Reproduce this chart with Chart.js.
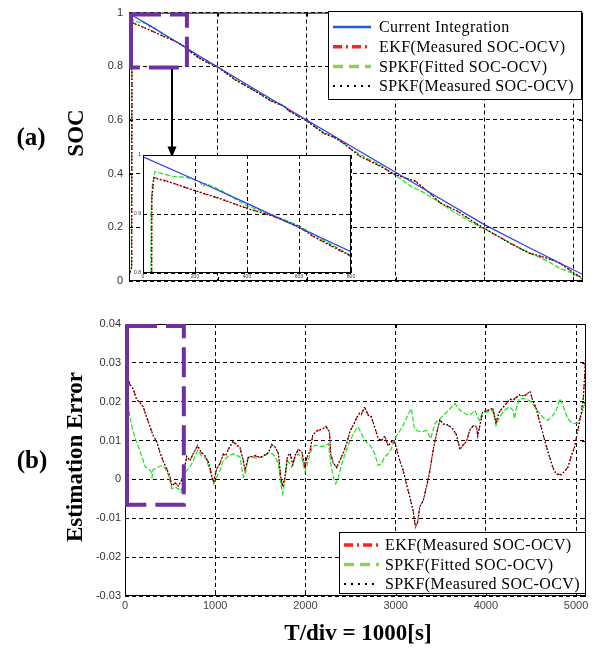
<!DOCTYPE html>
<html>
<head>
<meta charset="utf-8">
<script src="https://cdn.jsdelivr.net/npm/chart.js@4.4.1/dist/chart.umd.min.js"></script>
<style>
  html, body { margin: 0; padding: 0; background: #fff; }
  #wrap { position: relative; width: 596px; height: 650px; overflow: hidden; }
  canvas { position: absolute; }
  .lbl { position: absolute; font-family: "Liberation Serif", "Times New Roman", serif; font-weight: bold; color: #000; white-space: nowrap; line-height: 1; }
  .ctr { transform: translate(-50%, -50%); }
  .rot { transform: translate(-50%, -50%) rotate(-90deg); }
</style>
</head>
<body>
<div id="wrap">
  <canvas id="socChart" width="596" height="300" style="left:0;top:0;width:596px;height:300px"></canvas>
  <canvas id="errChart" width="596" height="350" style="left:0;top:300px;width:596px;height:350px"></canvas>
  <canvas id="zoomChart" width="240" height="140" style="left:120px;top:145px;width:240px;height:140px"></canvas>
  <div class="lbl ctr" style="left:31px;top:136px;font-size:25px">(a)</div>
  <div class="lbl rot" style="left:75px;top:133px;font-size:23px">SOC</div>
  <div class="lbl ctr" style="left:32px;top:459px;font-size:25px">(b)</div>
  <div class="lbl rot" style="left:74px;top:457px;font-size:23px">Estimation Error</div>
  <div class="lbl ctr" style="left:358px;top:632px;font-size:23px">T/div = 1000[s]</div>
</div>
<script>
// ---- data: [time s, value] ----
const timeTicks = [0, 1000, 2000, 3000, 4000, 5000];
const socTicks = [0, 0.2, 0.4, 0.6, 0.8, 1];
const errTicks = [-0.03, -0.02, -0.01, 0, 0.01, 0.02, 0.03, 0.04];
const zoomTimeTicks = [0, 200, 400, 600, 800];
const zoomSocTicks = [0.8, 0.9, 1];

const ciSoc = [[0,0.997],[200,0.958],[400,0.918],[600,0.877],[800,0.836],[1000,0.797],[1500,0.698],[2000,0.600],[2500,0.502],[3000,0.405],[3500,0.307],[4000,0.210],[4500,0.125],[5000,0.042],[5110,0.024]];

const ekfSoc = [[0,0.02],[30,0.05],[34,0.93],[42,0.962],[100,0.955],[200,0.939],[300,0.925],[400,0.910],[500,0.896],[600,0.878],[655,0.862],[700,0.851],[800,0.828],[900,0.811],[1000,0.797],[1200,0.748],[1400,0.712],[1600,0.670],[1750,0.651],[1800,0.633],[2000,0.597],[2200,0.548],[2300,0.537],[2400,0.516],[2600,0.465],[2800,0.432],[3000,0.395],[3220,0.373],[3400,0.323],[3500,0.292],[3700,0.259],[3900,0.216],[4100,0.176],[4300,0.139],[4500,0.104],[4700,0.086],[4850,0.066],[5000,0.032],[5110,0.008]];

const fitSoc = [[0,0.02],[28,0.05],[31,0.895],[36,0.95],[46,0.972],[78,0.968],[110,0.964],[168,0.962],[219,0.955],[230,0.946],[240,0.952],[300,0.940],[400,0.914],[500,0.898],[600,0.880],[700,0.854],[800,0.830],[900,0.812],[1000,0.798],[1200,0.751],[1400,0.712],[1600,0.672],[1750,0.653],[1800,0.634],[2000,0.598],[2200,0.552],[2340,0.534],[2500,0.492],[2650,0.462],[2800,0.438],[3000,0.394],[3175,0.352],[3300,0.333],[3500,0.292],[3650,0.258],[3900,0.211],[4100,0.177],[4300,0.141],[4500,0.106],[4700,0.076],[4850,0.047],[5000,0.028],[5110,0.005]];

const spkfSoc = [[0,0.02],[30,0.05],[34,0.925],[42,0.961],[100,0.954],[200,0.940],[300,0.926],[400,0.909],[500,0.897],[600,0.879],[655,0.862],[700,0.852],[800,0.829],[900,0.810],[1000,0.797],[1200,0.749],[1400,0.711],[1600,0.671],[1750,0.650],[1800,0.634],[2000,0.596],[2200,0.549],[2300,0.536],[2400,0.517],[2600,0.464],[2800,0.433],[3000,0.396],[3220,0.372],[3400,0.324],[3500,0.291],[3700,0.260],[3900,0.215],[4100,0.177],[4300,0.138],[4500,0.105],[4700,0.085],[4850,0.067],[5000,0.031],[5110,0.009]];

const ekfErr = [[0,0.09],[22,0.045],[33,0.0264],[55,0.0242],[92,0.0234],[129,0.0204],[166,0.0199],[203,0.0185],[240,0.0161],[277,0.0135],[314,0.0113],[351,0.0096],[388,0.0070],[425,0.0045],[462,0.0028],[499,0.0006],[518,-0.0015],[555,-0.0010],[592,-0.0015],[621,-0.0007],[647,0.0015],[684,0.0058],[721,0.0050],[758,0.0066],[806,0.0088],[843,0.0069],[887,0.0062],[931,0.0040],[961,0.0010],[983,-0.0007],[1016,0.0028],[1053,0.0040],[1090,0.0066],[1116,0.0060],[1146,0.0079],[1197,0.0096],[1240,0.0090],[1275,0.0080],[1312,0.0049],[1330,0.0023],[1367,0.0058],[1441,0.0060],[1497,0.0058],[1552,0.0062],[1589,0.0070],[1626,0.0088],[1663,0.0085],[1700,0.0066],[1726,0.0006],[1748,-0.0020],[1774,0.0006],[1800,0.0060],[1830,0.0066],[1860,0.0040],[1885,0.0060],[1922,0.0079],[1959,0.0070],[1996,0.0032],[2015,0.0055],[2052,0.0075],[2081,0.0113],[2126,0.0126],[2181,0.0128],[2229,0.0137],[2266,0.0121],[2281,0.0066],[2310,0.0040],[2347,0.0032],[2384,0.0049],[2421,0.0070],[2458,0.0092],[2495,0.0126],[2532,0.0139],[2569,0.0160],[2599,0.0169],[2620,0.0169],[2657,0.0185],[2694,0.0167],[2731,0.0160],[2768,0.0135],[2805,0.0105],[2842,0.0101],[2879,0.0110],[2916,0.0088],[2953,0.0096],[2990,0.0096],[3009,0.0079],[3046,0.0049],[3083,0.0023],[3120,-0.0011],[3157,-0.0046],[3194,-0.0080],[3220,-0.0123],[3242,-0.0111],[3268,-0.0071],[3305,-0.0054],[3342,-0.0020],[3379,0.0023],[3416,0.0075],[3453,0.0118],[3490,0.0152],[3527,0.0144],[3583,0.0139],[3638,0.0130],[3675,0.0113],[3712,0.0079],[3749,0.0088],[3786,0.0100],[3823,0.0126],[3860,0.0139],[3897,0.0135],[3910,0.0113],[3965,0.0173],[4021,0.0178],[4076,0.0182],[4113,0.0148],[4150,0.0173],[4206,0.0191],[4261,0.0204],[4317,0.0208],[4372,0.0216],[4427,0.0216],[4490,0.0225],[4520,0.0204],[4557,0.0182],[4594,0.0152],[4631,0.0118],[4668,0.0088],[4705,0.0058],[4742,0.0032],[4779,0.0013],[4834,0.0013],[4871,0.0019],[4908,0.0032],[4945,0.0058],[4982,0.0083],[5019,0.0126],[5056,0.0169],[5082,0.0212],[5104,0.0307],[5119,0.0358]];

const fitErr = [[0,0.030],[15,0.029],[22,0.029],[33,0.021],[48,0.017],[77,0.0135],[114,0.0105],[151,0.0083],[188,0.0058],[225,0.0032],[262,0.0028],[290,0.0020],[300,0.0006],[312,0.0025],[336,0.0028],[373,0.0032],[410,0.0036],[447,0.0028],[484,0.0010],[518,-0.0024],[555,-0.0020],[592,-0.0024],[621,-0.0033],[647,0.0006],[684,0.0023],[721,0.0032],[758,0.0049],[806,0.0075],[850,0.0060],[894,0.0055],[931,0.0032],[961,0.0006],[983,-0.0011],[1016,0.0006],[1053,0.0023],[1090,0.0049],[1146,0.0060],[1201,0.0066],[1257,0.0060],[1275,0.0058],[1312,0.0006],[1330,0.0010],[1367,0.0058],[1459,0.0055],[1533,0.0058],[1607,0.0070],[1663,0.0060],[1700,0.0040],[1726,-0.0011],[1748,-0.0037],[1774,0.0002],[1800,0.0049],[1848,0.0032],[1885,0.0055],[1922,0.0066],[1959,0.0055],[1996,0.0019],[2033,0.0049],[2070,0.0079],[2107,0.0088],[2163,0.0085],[2218,0.0085],[2255,0.0092],[2281,0.0040],[2310,0.0006],[2336,-0.0011],[2366,0.0006],[2403,0.0040],[2440,0.0066],[2495,0.0100],[2551,0.0126],[2583,0.0135],[2620,0.0118],[2657,0.0100],[2694,0.0092],[2731,0.0083],[2768,0.0066],[2805,0.0036],[2842,0.0040],[2879,0.0058],[2916,0.0066],[2953,0.0079],[2990,0.0105],[3027,0.0118],[3083,0.0139],[3138,0.0167],[3175,0.0182],[3205,0.0135],[3231,0.0126],[3286,0.0122],[3342,0.0126],[3390,0.0105],[3435,0.0144],[3490,0.0156],[3546,0.0169],[3601,0.0182],[3657,0.0195],[3712,0.0178],[3768,0.0169],[3823,0.0165],[3878,0.0178],[3928,0.0152],[3965,0.0173],[4021,0.0173],[4076,0.0178],[4113,0.0139],[4150,0.0160],[4206,0.0178],[4261,0.0187],[4300,0.0178],[4317,0.0156],[4335,0.0180],[4372,0.0208],[4446,0.0208],[4501,0.0200],[4557,0.0182],[4631,0.0160],[4686,0.0152],[4742,0.0165],[4779,0.0178],[4823,0.0208],[4860,0.0187],[4908,0.0156],[4963,0.0144],[5019,0.0144],[5075,0.0178],[5112,0.0212]];

const spkfErr = [[0,0.09],[22,0.046],[33,0.0262],[55,0.0245],[92,0.0232],[129,0.0206],[166,0.0197],[203,0.0187],[240,0.0159],[277,0.0137],[314,0.0111],[351,0.0098],[388,0.0068],[425,0.0047],[462,0.0026],[499,0.0008],[518,-0.0017],[555,-0.0008],[592,-0.0017],[621,-0.0005],[647,0.0013],[684,0.0060],[721,0.0048],[758,0.0068],[806,0.0086],[843,0.0071],[887,0.0060],[931,0.0042],[961,0.0008],[983,-0.0005],[1016,0.0026],[1053,0.0042],[1090,0.0064],[1116,0.0062],[1146,0.0077],[1197,0.0098],[1240,0.0088],[1275,0.0082],[1312,0.0047],[1330,0.0025],[1367,0.0056],[1441,0.0062],[1497,0.0056],[1552,0.0064],[1589,0.0068],[1626,0.0090],[1663,0.0083],[1700,0.0068],[1726,0.0008],[1748,-0.0018],[1774,0.0008],[1800,0.0058],[1830,0.0068],[1860,0.0038],[1885,0.0062],[1922,0.0077],[1959,0.0072],[1996,0.0030],[2015,0.0057],[2052,0.0073],[2081,0.0115],[2126,0.0124],[2181,0.0130],[2229,0.0135],[2266,0.0123],[2281,0.0064],[2310,0.0042],[2347,0.0030],[2384,0.0051],[2421,0.0068],[2458,0.0094],[2495,0.0124],[2532,0.0141],[2569,0.0158],[2599,0.0171],[2620,0.0167],[2657,0.0187],[2694,0.0165],[2731,0.0162],[2768,0.0133],[2805,0.0107],[2842,0.0099],[2879,0.0112],[2916,0.0086],[2953,0.0098],[2990,0.0094],[3009,0.0081],[3046,0.0047],[3083,0.0025],[3120,-0.0013],[3157,-0.0044],[3194,-0.0082],[3220,-0.0121],[3242,-0.0113],[3268,-0.0069],[3305,-0.0056],[3342,-0.0018],[3379,0.0021],[3416,0.0077],[3453,0.0116],[3490,0.0154],[3527,0.0142],[3583,0.0141],[3638,0.0128],[3675,0.0115],[3712,0.0077],[3749,0.0090],[3786,0.0098],[3823,0.0128],[3860,0.0137],[3897,0.0137],[3910,0.0111],[3965,0.0175],[4021,0.0176],[4076,0.0184],[4113,0.0146],[4150,0.0175],[4206,0.0189],[4261,0.0206],[4317,0.0206],[4372,0.0218],[4427,0.0214],[4490,0.0227],[4520,0.0202],[4557,0.0184],[4594,0.0150],[4631,0.0120],[4668,0.0086],[4705,0.0060],[4742,0.0030],[4779,0.0015],[4834,0.0011],[4871,0.0021],[4908,0.0030],[4945,0.0060],[4982,0.0081],[5019,0.0128],[5056,0.0167],[5082,0.0214],[5104,0.0305],[5119,0.0360]];

// zoom boxes in data units: [tMin, tMax, yMin, yMax]
const socZoomBox = [0, 652, 0.795, 1.0];
const errZoomBox = [0, 652, -0.0065, 0.04];
const socArrow = [484, 0.79, 0.46]; // t, from soc, to soc

// ---- styles ----
const C_BLUE = '#2a3cf0', C_RED = '#ff1010', C_GREEN = '#1ee01e', C_BLACK = '#000';
const tickFont = { family: '"Liberation Sans", Arial, sans-serif', size: 11 };

function lineSet(label, pairs, color, dash, width, order) {
  return {
    label: label,
    data: pairs.map((p) => ({ x: p[0], y: p[1] })),
    borderColor: color,
    borderDash: dash,
    borderWidth: width,
    pointRadius: 0,
    fill: false,
    tension: 0,
    order: order || 0,
  };
}

function fixedTicks(values) {
  return (scale) => { scale.ticks = values.map((v) => ({ value: v })); };
}

function gridAxis(extra) {
  return Object.assign({
    type: 'linear',
    grid: { color: '#000', lineWidth: 1, drawTicks: false },
    border: { display: false, dash: [4, 3] },
  }, extra);
}

// frame and small inward ticks drawn on top, MATLAB style
const framePlugin = {
  id: 'frame',
  afterDraw(chart, args, o) {
    const { ctx, chartArea: a, scales } = chart;
    const len = o.tickLen || 0;
    ctx.save();
    ctx.setLineDash([]);
    ctx.strokeStyle = '#000';
    ctx.lineWidth = o.width || 1;
    ctx.strokeRect(a.left + 0.5, a.top + 0.5, a.right - a.left - 1, a.bottom - a.top - 1);
    if (len) {
      ctx.beginPath();
      scales.y.ticks.forEach((t) => {
        const py = Math.round(scales.y.getPixelForValue(t.value)) + 0.5;
        ctx.moveTo(a.left, py); ctx.lineTo(a.left + len, py);
        ctx.moveTo(a.right, py); ctx.lineTo(a.right - len, py);
      });
      scales.x.ticks.forEach((t) => {
        const px = Math.round(scales.x.getPixelForValue(t.value)) + 0.5;
        ctx.moveTo(px, a.bottom); ctx.lineTo(px, a.bottom - len);
        ctx.moveTo(px, a.top); ctx.lineTo(px, a.top + len);
      });
      ctx.stroke();
    }
    ctx.restore();
  },
};

const bgPlugin = {
  id: 'areaBg',
  beforeDraw(chart, args, o) {
    if (!o.color) return;
    const a = chart.chartArea;
    chart.ctx.save();
    chart.ctx.fillStyle = o.color;
    chart.ctx.fillRect(a.left, a.top, a.right - a.left, a.bottom - a.top);
    chart.ctx.restore();
  },
};

const zoomBoxPlugin = {
  id: 'zoomBox',
  afterDraw(chart, args, o) {
    if (!o.box) return;
    const { ctx, scales } = chart;
    const l = scales.x.getPixelForValue(o.box[0]) + 2;
    const r = scales.x.getPixelForValue(o.box[1]);
    const b = scales.y.getPixelForValue(o.box[2]);
    const t = scales.y.getPixelForValue(o.box[3]) + 2;
    ctx.save();
    ctx.strokeStyle = '#7030a0';
    ctx.lineWidth = 4;
    // left side sits on the axis and reads as solid
    ctx.setLineDash([]);
    ctx.beginPath(); ctx.moveTo(l, t - 2); ctx.lineTo(l, b + 2); ctx.stroke();
    ctx.setLineDash([30, 9]);
    ctx.beginPath();
    ctx.moveTo(l, t); ctx.lineTo(r, t); ctx.lineTo(r, b); ctx.lineTo(l, b);
    ctx.stroke();
    if (o.arrow) {
      const ax = Math.round(scales.x.getPixelForValue(o.arrow[0]));
      const y0 = scales.y.getPixelForValue(o.arrow[1]);
      const y1 = scales.y.getPixelForValue(o.arrow[2]);
      ctx.setLineDash([]);
      ctx.strokeStyle = '#000';
      ctx.fillStyle = '#000';
      ctx.lineWidth = 2;
      ctx.beginPath(); ctx.moveTo(ax, y0); ctx.lineTo(ax, y1 - 9); ctx.stroke();
      ctx.beginPath(); ctx.moveTo(ax - 4.5, y1 - 11); ctx.lineTo(ax + 4.5, y1 - 11); ctx.lineTo(ax, y1); ctx.closePath(); ctx.fill();
    }
    ctx.restore();
  },
};

const boxLegendPlugin = {
  id: 'boxLegend',
  afterDraw(chart, args, o) {
    if (!o.rows) return;
    const ctx = chart.ctx;
    ctx.save();
    ctx.fillStyle = '#fff';
    ctx.fillRect(o.x, o.y, o.w, o.h);
    ctx.setLineDash([]);
    ctx.strokeStyle = '#000';
    ctx.lineWidth = 1;
    ctx.strokeRect(o.x + 0.5, o.y + 0.5, o.w, o.h);
    ctx.font = '16px "Liberation Serif", "Times New Roman", serif';
    ctx.textBaseline = 'middle';
    if ('letterSpacing' in ctx) ctx.letterSpacing = '0.4px';
    o.rows.forEach((r, i) => {
      const y = o.rowY + i * o.rowH;
      ctx.strokeStyle = r.color;
      ctx.lineWidth = r.width;
      ctx.setLineDash(r.dash);
      ctx.beginPath(); ctx.moveTo(o.sampleX, y); ctx.lineTo(o.sampleX + o.sampleW, y); ctx.stroke();
      ctx.setLineDash([]);
      ctx.fillStyle = '#000';
      ctx.fillText(chart.data.datasets[r.ds].label, o.textX, y + 1);
    });
    ctx.restore();
  },
};

Chart.register(framePlugin, bgPlugin, zoomBoxPlugin, boxLegendPlugin);

const legendRows = {
  ci: { color: '#1f5ad8', width: 2.5, dash: [] },
  ekf: { color: '#ff2020', width: 3.5, dash: [9, 4, 2, 4] },
  fit: { color: '#8fce5a', width: 3.5, dash: [10, 6] },
  spkf: { color: '#000', width: 2, dash: [2, 5] },
};

function socSets() {
  return [
    lineSet('Current Integration', ciSoc, C_BLUE, [], 1.2, 0),
    lineSet('EKF(Measured SOC-OCV)', ekfSoc, C_RED, [5, 2, 1.5, 2], 1.2, 2),
    lineSet('SPKF(Fitted SOC-OCV)', fitSoc, C_GREEN, [5, 2], 1.2, 3),
    lineSet('SPKF(Measured SOC-OCV)', spkfSoc, C_BLACK, [1.5, 2], 1.1, 1),
  ];
}

// ---- (a) SOC ----
new Chart(document.getElementById('socChart'), {
  type: 'line',
  data: { datasets: socSets() },
  options: {
    responsive: false,
    animation: false,
    layout: { padding: { left: 89, right: 13, top: 7, bottom: 19 } },
    plugins: {
      legend: { display: false },
      tooltip: { enabled: false },
      frame: { tickLen: 4 },
      zoomBox: { box: socZoomBox, arrow: socArrow },
      boxLegend: {
        x: 328, y: 11, w: 253, h: 88, rowY: 27, rowH: 19.7, sampleX: 333, sampleW: 38, textX: 379,
        rows: [
          Object.assign({ ds: 0 }, legendRows.ci),
          Object.assign({ ds: 1 }, legendRows.ekf),
          Object.assign({ ds: 2 }, legendRows.fit),
          Object.assign({ ds: 3 }, legendRows.spkf),
        ],
      },
    },
    scales: {
      x: gridAxis({
        min: 0, max: 5110,
        afterBuildTicks: fixedTicks(timeTicks),
        ticks: { display: false },
        afterFit: (s) => { s.height = 0; },
      }),
      y: gridAxis({
        min: 0, max: 1,
        afterBuildTicks: fixedTicks(socTicks),
        ticks: { callback: (v) => String(v), font: tickFont, color: '#333', padding: 6 },
        afterFit: (s) => { s.width = 40; },
      }),
    },
  },
});

// ---- (a) inset, 0-800 s ----
new Chart(document.getElementById('zoomChart'), {
  type: 'line',
  data: { datasets: socSets() },
  options: {
    responsive: false,
    animation: false,
    layout: { padding: { left: 3, right: 9, top: 10, bottom: 4 } },
    plugins: {
      legend: { display: false },
      tooltip: { enabled: false },
      areaBg: { color: '#fff' },
      frame: { tickLen: 2 },
    },
    scales: {
      x: gridAxis({
        min: 0, max: 800,
        afterBuildTicks: fixedTicks(zoomTimeTicks),
        ticks: { callback: (v) => String(v), font: { family: tickFont.family, size: 5 }, color: '#333', padding: 1 },
        afterFit: (s) => { s.height = 8; },
      }),
      y: gridAxis({
        min: 0.8, max: 1,
        afterBuildTicks: fixedTicks(zoomSocTicks),
        ticks: { callback: (v) => String(v), font: { family: tickFont.family, size: 5 }, color: '#333', padding: 2 },
        afterFit: (s) => { s.width = 20; },
      }),
    },
  },
});

// ---- (b) estimation error ----
new Chart(document.getElementById('errChart'), {
  type: 'line',
  data: {
    datasets: [
      lineSet('EKF(Measured SOC-OCV)', ekfErr, C_RED, [5, 2, 1.5, 2], 1.2, 1),
      lineSet('SPKF(Fitted SOC-OCV)', fitErr, C_GREEN, [5, 2], 1.2, 2),
      lineSet('SPKF(Measured SOC-OCV)', spkfErr, C_BLACK, [1.5, 2], 1.1, 0),
    ],
  },
  options: {
    responsive: false,
    animation: false,
    layout: { padding: { left: 85, right: 10, top: 24, bottom: 34 } },
    plugins: {
      legend: { display: false },
      tooltip: { enabled: false },
      frame: { tickLen: 4 },
      zoomBox: { box: errZoomBox },
      boxLegend: {
        x: 339, y: 232, w: 246, h: 61, rowY: 245, rowH: 19.5, sampleX: 344, sampleW: 35, textX: 385,
        rows: [
          Object.assign({ ds: 0 }, legendRows.ekf),
          Object.assign({ ds: 1 }, legendRows.fit),
          Object.assign({ ds: 2 }, legendRows.spkf),
        ],
      },
    },
    scales: {
      x: gridAxis({
        min: 0, max: 5110,
        afterBuildTicks: fixedTicks(timeTicks),
        ticks: { callback: (v) => String(v), font: tickFont, color: '#444', padding: 3, maxRotation: 0 },
        afterFit: (s) => { s.height = 20; },
      }),
      y: gridAxis({
        min: -0.03, max: 0.04,
        afterBuildTicks: fixedTicks(errTicks),
        ticks: { callback: (v) => String(v), font: tickFont, color: '#333', padding: 4 },
        afterFit: (s) => { s.width = 40; },
      }),
    },
  },
});
</script>
</body>
</html>
